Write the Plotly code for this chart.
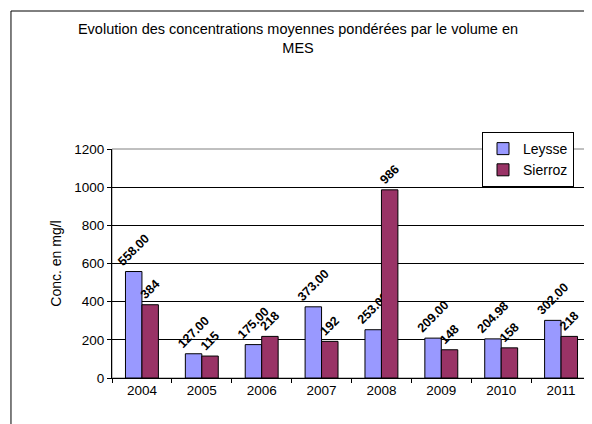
import plotly.graph_objects as go

# MES concentrations, weighted by volume (mg/l)
years = ["2004", "2005", "2006", "2007", "2008", "2009", "2010", "2011"]
leysse = [558.00, 127.00, 175.00, 373.00, 253.00, 209.00, 204.98, 302.00]
sierroz = [384, 115, 218, 192, 986, 148, 158, 218]
leysse_labels = ["%.2f" % v for v in leysse]
sierroz_labels = [str(v) for v in sierroz]

FONT = "Liberation Sans, Arial, sans-serif"

fig = go.Figure()
fig.add_trace(go.Bar(
    x=years, y=leysse, name="Leysse",
    marker=dict(color="#9999FF", line=dict(color="black", width=1)),
    text=leysse_labels, textposition="outside", textangle=-45,
    constraintext="none",
    textfont=dict(family=FONT, size=12.5, color="black", weight="bold"),
    cliponaxis=False,
))
fig.add_trace(go.Bar(
    x=years, y=sierroz, name="Sierroz",
    marker=dict(color="#993366", line=dict(color="black", width=1)),
    text=sierroz_labels, textposition="outside", textangle=-45,
    constraintext="none",
    textfont=dict(family=FONT, size=12.5, color="black", weight="bold"),
    cliponaxis=False,
))

# page body has an 8px margin, so the figure is 8px smaller than the window
fig.update_layout(
    width=584, height=416,
    margin=dict(l=104, r=1, t=141, b=46, autoexpand=False),
    paper_bgcolor="white", plot_bgcolor="white",
    font=dict(family=FONT, size=13, color="black"),
    barmode="group", bargap=0.45, bargroupgap=0,
    title=dict(
        text="Evolution des concentrations moyennes pondérées par le volume en<br>MES",
        x=0.4966, xref="container", xanchor="center",
        y=0.937, yanchor="middle",
        font=dict(size=14.5),
    ),
    legend=dict(
        xref="container", yref="container",
        x=0.9692, y=0.7019, xanchor="right", yanchor="top",
        bgcolor="white", bordercolor="black", borderwidth=1,
        font=dict(size=14), tracegroupgap=0, itemwidth=30,
    ),
    showlegend=True,
)

fig.update_xaxes(
    type="category", showline=True, linecolor="black", linewidth=1,
    ticks="outside", tickson="boundaries", ticklen=4, tickcolor="black",
    showgrid=False, tickfont=dict(size=13.5), automargin=False,
)
fig.update_yaxes(
    range=[0, 1200], dtick=200, showline=True, linecolor="black", linewidth=1,
    ticks="outside", ticklen=4, tickcolor="black",
    showgrid=True, gridcolor="black", gridwidth=1,
    zeroline=False, tickfont=dict(size=13.5), automargin=False,
    title=dict(text="Conc. en mg/l", font=dict(size=14), standoff=9),
)

# plot area border (grey top/right) and outer chart frame
fig.add_shape(type="rect", xref="paper", yref="paper", x0=0, x1=1, y0=0, y1=1,
              line=dict(color="#808080", width=1), layer="below")
fig.add_shape(type="rect", xref="paper", yref="paper",
              x0=-0.2109, x1=1.05, y0=-0.25, y1=1.6026,
              line=dict(color="black", width=1), layer="below")

fig.write_html("out.html")
